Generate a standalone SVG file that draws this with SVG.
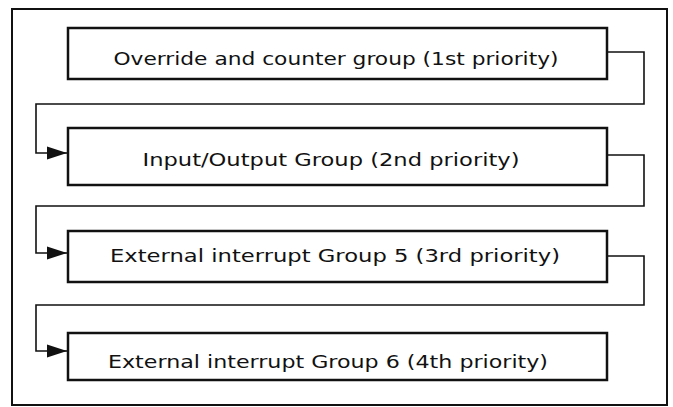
<svg xmlns="http://www.w3.org/2000/svg" width="673" height="407" viewBox="0 0 673 407">
<style>
.frame{fill:none;stroke:#111;stroke-width:2}
.box{fill:#fff;stroke:#111;stroke-width:2.5}
.conn{fill:none;stroke:#111;stroke-width:1.6}
.lbl{font-family:"DejaVu Sans","Liberation Sans",sans-serif;font-size:18px;fill:#111;text-anchor:middle}
</style>
<defs>
<marker id="arr" markerWidth="21" markerHeight="14" refX="20" refY="7" orient="auto" markerUnits="userSpaceOnUse">
<path d="M0,0.5 L20,7 L0,13.5 Z" fill="#111"/>
</marker>
</defs>
<rect class="frame" x="12" y="9" width="655" height="396"/>
<g id="connectors">
<path class="conn" d="M607,52 H644 V104 H36 V153 H67" marker-end="url(#arr)"/>
<path class="conn" d="M607,155 H644 V206 H36 V253 H67" marker-end="url(#arr)"/>
<path class="conn" d="M607,256 H644 V305 H36 V351 H67" marker-end="url(#arr)"/>
</g>
<g id="n1">
<rect class="box" x="68" y="28" width="539" height="51"/>
<text class="lbl" x="336" y="65" textLength="445" lengthAdjust="spacingAndGlyphs">Override and counter group (1st priority)</text>
</g>
<g id="n2">
<rect class="box" x="68" y="128" width="539" height="57"/>
<text class="lbl" x="331" y="166" textLength="377" lengthAdjust="spacingAndGlyphs">Input/Output Group (2nd priority)</text>
</g>
<g id="n3">
<rect class="box" x="68" y="231" width="539" height="51"/>
<text class="lbl" x="335" y="262" textLength="450" lengthAdjust="spacingAndGlyphs">External interrupt Group 5 (3rd priority)</text>
</g>
<g id="n4">
<rect class="box" x="68" y="333" width="539" height="47"/>
<text class="lbl" x="328" y="368" textLength="440" lengthAdjust="spacingAndGlyphs">External interrupt Group 6 (4th priority)</text>
</g>
</svg>
